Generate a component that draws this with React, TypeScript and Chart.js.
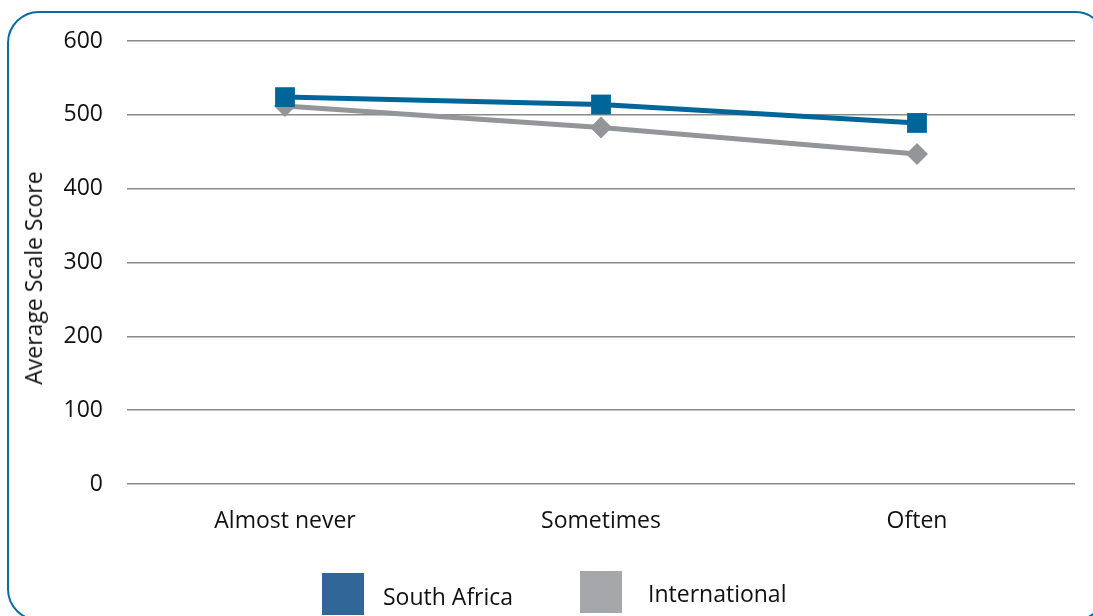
import React, { useEffect, useRef } from "react";
import { Chart, registerables } from "chart.js";

Chart.register(...registerables);

const categories = ["Almost never", "Sometimes", "Often"];
const southAfrica = [524, 514, 489];
const international = [512, 483, 447];
const yTicks = [0, 100, 200, 300, 400, 500, 600];
const seriesNames = ["South Africa", "International"];
const yAxisTitle = "Average Scale Score";

const FONT = "'Open Sans', 'Noto Sans', sans-serif";

export default function App() {
  const ref = useRef<HTMLCanvasElement | null>(null);

  useEffect(() => {
    if (!ref.current) return;
    const chart = new Chart(ref.current, {
      type: "line",
      data: {
        labels: categories,
        datasets: [
          {
            label: seriesNames[0],
            data: southAfrica,
            borderColor: "#00669a",
            backgroundColor: "#00669a",
            borderWidth: 5,
            pointStyle: "rect",
            pointRadius: 14,
            pointHoverRadius: 14,
            pointBorderWidth: 0,
            order: 1,
          },
          {
            label: seriesNames[1],
            data: international,
            borderColor: "#939598",
            backgroundColor: "#939598",
            borderWidth: 5,
            pointStyle: "rectRot",
            pointRadius: 11,
            pointHoverRadius: 11,
            pointBorderWidth: 0,
            order: 2,
          },
        ],
      },
      options: {
        animation: false,
        responsive: false,
        maintainAspectRatio: false,
        layout: { padding: { top: 41, right: 18, left: 0, bottom: 0 } },
        plugins: {
          legend: { display: false },
          tooltip: { enabled: false },
        },
        scales: {
          x: {
            offset: true,
            grid: { display: false, drawTicks: false },
            border: { display: false },
            ticks: {
              color: "#111",
              font: { family: FONT, size: 23 },
              padding: 24,
            },
            afterFit: (s: any) => {
              s.height = 616 - 484 + 30;
            },
          },
          y: {
            min: 0,
            max: 600,
            afterBuildTicks: (s: any) => {
              s.ticks = yTicks.map((v) => ({ value: v }));
            },
            grid: { color: "#8a8a8a", lineWidth: 1.5, drawTicks: false },
            border: { display: false },
            ticks: {
              color: "#111",
              font: { family: FONT, size: 23 },
              padding: 24,
            },
            title: { display: false },
            afterFit: (s: any) => {
              s.width = 127;
            },
          },
        },
      },
    });
    return () => chart.destroy();
  }, []);

  const legendItems = [
    { label: seriesNames[0], color: "#316699", left: 322, top: 573, textLeft: 383, textTop: 582 },
    { label: seriesNames[1], color: "#a6a7aa", left: 580, top: 571, textLeft: 648, textTop: 579 },
  ];

  return (
    <div
      style={{
        position: "fixed",
        left: 0,
        top: 0,
        width: 1093,
        height: 616,
        overflow: "hidden",
        background: "#fff",
      }}
    >
      <div
        style={{
          position: "absolute",
          left: 7,
          top: 11,
          width: 1100,
          height: 610,
          border: "2.5px solid #0b6aa0",
          borderRadius: 32,
          boxSizing: "border-box",
        }}
      />
      <canvas
        ref={ref}
        width={1093}
        height={646}
        style={{ position: "absolute", left: 0, top: 0, width: 1093, height: 646 }}
      />
      <div
        style={{
          position: "absolute",
          left: 33,
          top: 278,
          transform: "translate(-50%, -50%) rotate(-90deg)",
          fontFamily: FONT,
          fontSize: 23,
          color: "#111",
          lineHeight: "28px",
          whiteSpace: "nowrap",
        }}
      >
        {yAxisTitle}
      </div>
      {legendItems.map((it) => (
        <React.Fragment key={it.label}>
          <div
            style={{
              position: "absolute",
              left: it.left,
              top: it.top,
              width: 42,
              height: 42,
              background: it.color,
            }}
          />
          <div
            style={{
              position: "absolute",
              left: it.textLeft,
              top: it.textTop,
              fontFamily: FONT,
              fontSize: 23,
              color: "#111",
              lineHeight: "28px",
              whiteSpace: "nowrap",
            }}
          >
            {it.label}
          </div>
        </React.Fragment>
      ))}
    </div>
  );
}
